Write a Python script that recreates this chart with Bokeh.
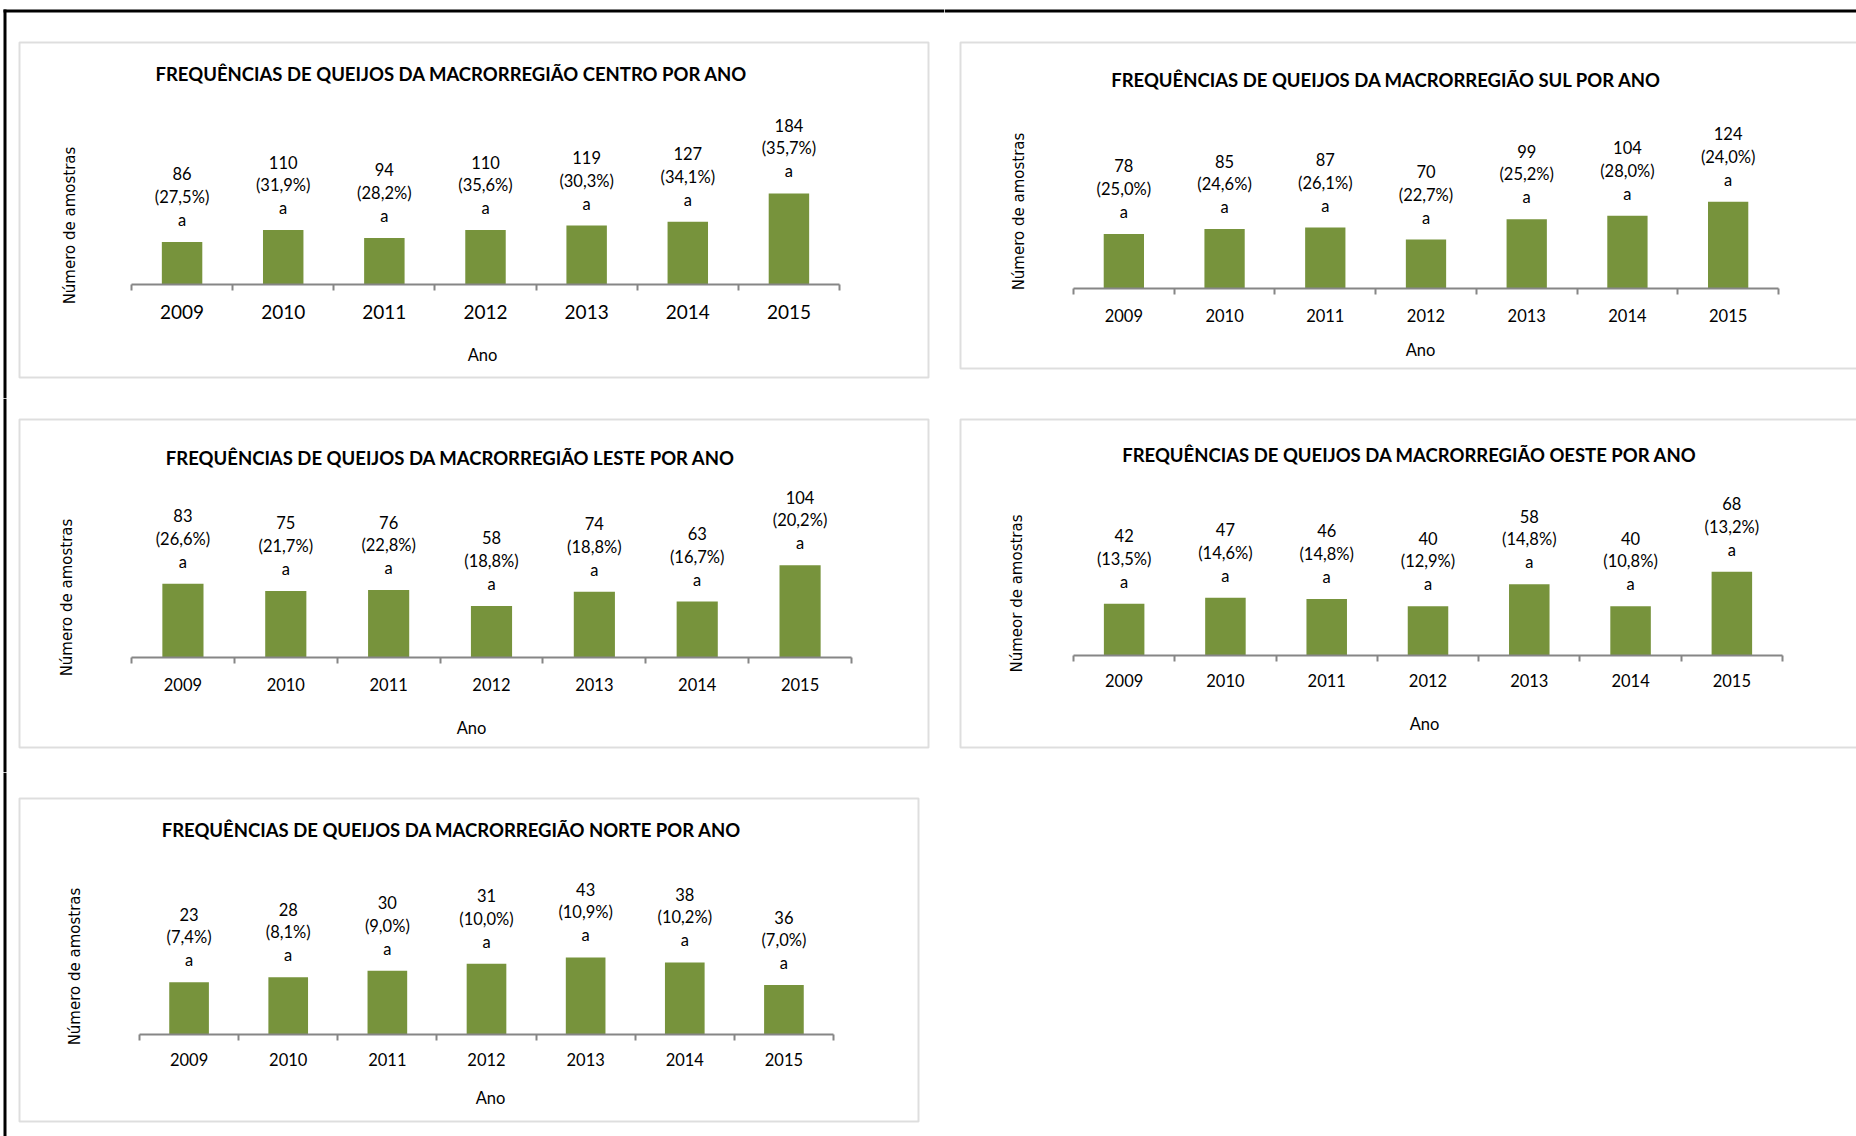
from math import pi
from bokeh.plotting import figure
from bokeh.models import Range1d, LinearAxis, FixedTicker, BoxAnnotation, Label
from bokeh.layouts import column, row
from bokeh.embed import file_html
from bokeh.resources import INLINE
from bokeh.core.properties import value

# ---------------- data ----------------
years = [2009, 2010, 2011, 2012, 2013, 2014, 2015]
letters = ["a", "a", "a", "a", "a", "a", "a"]

centro_n = [86, 110, 94, 110, 119, 127, 184]
centro_pct = [27.5, 31.9, 28.2, 35.6, 30.3, 34.1, 35.7]

sul_n = [78, 85, 87, 70, 99, 104, 124]
sul_pct = [25.0, 24.6, 26.1, 22.7, 25.2, 28.0, 24.0]

leste_n = [83, 75, 76, 58, 74, 63, 104]
leste_pct = [26.6, 21.7, 22.8, 18.8, 18.8, 16.7, 20.2]

oeste_n = [42, 47, 46, 40, 58, 40, 68]
oeste_pct = [13.5, 14.6, 14.8, 12.9, 14.8, 10.8, 13.2]

norte_n = [23, 28, 30, 31, 43, 38, 36]
norte_pct = [7.4, 8.1, 9.0, 10.0, 10.9, 10.2, 7.0]

titles = [
    "FREQUÊNCIAS DE QUEIJOS DA MACRORREGIÃO CENTRO POR ANO",
    "FREQUÊNCIAS DE QUEIJOS DA MACRORREGIÃO SUL POR ANO",
    "FREQUÊNCIAS DE QUEIJOS DA MACRORREGIÃO LESTE POR ANO",
    "FREQUÊNCIAS DE QUEIJOS DA MACRORREGIÃO OESTE POR ANO",
    "FREQUÊNCIAS DE QUEIJOS DA MACRORREGIÃO NORTE POR ANO",
]
y_labels = ["Número de amostras", "Número de amostras", "Número de amostras",
            "Númeor de amostras", "Número de amostras"]
x_label = "Ano"

# ---------------- style ----------------
BAR = "#77933C"
AXIS = "#868686"
BOX = "#929292"
FONT = "Lato"

def fmt_pct(v):
    return "(" + ("%.1f" % v).replace(".", ",") + "%)"

def panel(cw, ch, frame, box, title, tpos, ylab, ypos, apos, counts, pcts, bars,
          scale, tick_size, standoff, black_top, black_left):
    # frame: pixel extent of the category axis (left, right) and the axis line y
    fl, fr, fb = frame
    ppu = (fr - fl) / len(years)
    x0 = years[0] - 0.5
    x1 = years[-1] + 0.5
    p = figure(width=cw, height=ch, output_backend="svg", toolbar_location=None,
               title_location=None, min_border=0,
               x_range=Range1d(x0 - fl / ppu, x1 + (cw - fr) / ppu),
               y_range=Range1d(-(ch - fb) / scale, fb / scale),
               x_axis_type=None, y_axis_type=None)
    p.outline_line_color = None
    p.background_fill_color = "white"
    p.border_fill_color = "white"

    ax = LinearAxis(fixed_location=0, bounds=(x0, x1),
                    ticker=FixedTicker(ticks=years,
                                       minor_ticks=[y - 0.5 for y in years] + [x1]))
    ax.axis_line_color = AXIS
    ax.axis_line_width = 2
    ax.major_tick_line_color = None
    ax.major_tick_in = 0
    ax.major_tick_out = 0
    ax.minor_tick_line_color = AXIS
    ax.minor_tick_line_width = 2
    ax.minor_tick_in = 0
    ax.minor_tick_out = 6
    ax.major_label_standoff = standoff
    ax.major_label_text_font = FONT
    ax.major_label_text_font_size = tick_size
    ax.major_label_text_color = "black"
    p.add_layout(ax, "below")

    p.vbar(x=years, top=bars, width=0.4, bottom=0, fill_color=BAR, line_color=None)

    common = dict(text_align="center", text_baseline="middle", text_font=value(FONT),
                  text_font_size="16.5px", text_color="black")
    p.text(x=years, y=bars, text=letters, y_offset=-22, **common)
    p.text(x=years, y=bars, text=[fmt_pct(v) for v in pcts], y_offset=-45, **common)
    p.text(x=years, y=bars, text=[str(v) for v in counts], y_offset=-68, **common)

    lu = dict(x_units="canvas", y_units="canvas", text_align="center", text_baseline="middle")
    p.add_layout(Label(x=tpos[0], y=tpos[1], text=title, text_font=FONT, text_font_style="bold",
                       text_font_size="18.5px", text_color="black", **lu))
    p.add_layout(Label(x=ypos[0], y=ypos[1], text=ylab, angle=pi / 2, text_font="DejaVu Sans",
                       text_font_size="15px", text_color="black", **lu))
    p.add_layout(Label(x=apos[0], y=apos[1], text=x_label, text_font=FONT,
                       text_font_size="16.5px", text_color="black", **lu))

    cu = dict(left_units="canvas", right_units="canvas", top_units="canvas", bottom_units="canvas")
    p.add_layout(BoxAnnotation(left=box[0], right=box[1], top=box[2], bottom=box[3],
                               fill_alpha=0, line_color=BOX, line_width=2, **cu))
    if black_top:
        p.add_layout(BoxAnnotation(left=3 if black_left else 0, right=cw, top=9, bottom=12,
                                   fill_color="black", fill_alpha=1, line_alpha=0, **cu))
    if black_left:
        p.add_layout(BoxAnnotation(left=3, right=6, top=9 if black_top else 0, bottom=ch,
                                   fill_color="black", fill_alpha=1, line_alpha=0, **cu))
    return p

p1 = panel(944, 398, (131, 839, 284), (19, 928, 42, 377), titles[0], (451, 73),
           y_labels[0], (69, 225), (482, 354), centro_n, centro_pct, centro_n,
           0.495, "19px", 14, True, True)
p2 = panel(912, 398, (129, 834, 288), (16, 1000, 42, 368), titles[1], (442, 79),
           y_labels[1], (74, 211), (476, 349), sul_n, sul_pct, sul_n,
           0.70, "16.5px", 14, True, False)
p3 = panel(944, 374, (131, 851, 259), (19, 928, 21, 349), titles[2], (450, 59),
           y_labels[2], (66, 199), (471, 329), leste_n, leste_pct, leste_n,
           0.888, "16.5px", 14, False, True)
p4 = panel(912, 374, (129, 838, 257), (16, 1000, 21, 349), titles[3], (465, 56),
           y_labels[3], (72, 195), (480, 325), oeste_n, oeste_pct, oeste_n,
           1.23, "16.5px", 12, False, False)
p5 = panel(944, 364, (139, 833, 262), (19, 918, 26, 349), titles[4], (451, 57),
           y_labels[4], (74, 194), (490, 325), norte_n, norte_pct, norte_pct,
           7.07, "16.5px", 12, False, True)

layout = column(row(p1, p2), row(p3, p4), p5)
open("out.html", "w").write(file_html(layout, INLINE))
